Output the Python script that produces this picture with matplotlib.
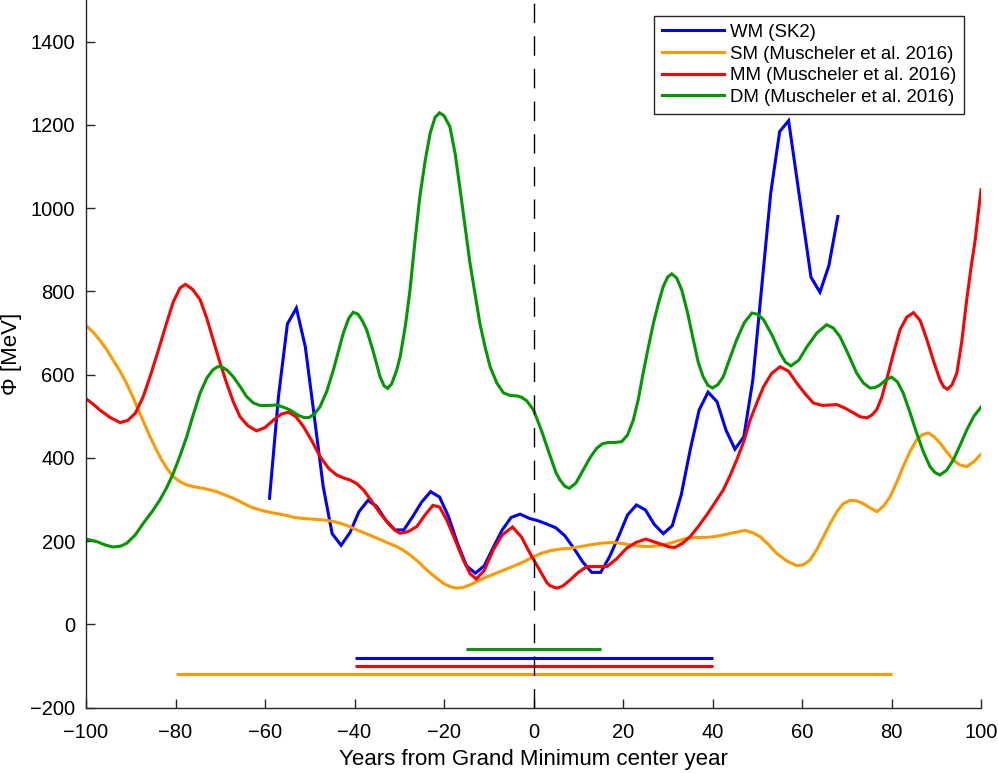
import numpy as np
import matplotlib
matplotlib.use('Agg')
import matplotlib.pyplot as plt

plt.rcParams['font.family'] = ['Liberation Sans', 'DejaVu Sans']

# WM (SK2) - ломаная, точки примерно через 2 года
wm_x = [-59, -57, -55, -53, -51, -49, -47, -45, -43, -41, -39, -37, -35, -33, -31, -29,
        -27, -25, -23, -21, -19, -17, -15, -13, -11, -9, -7, -5, -3, -1, 1, 3, 5, 7,
        9, 11, 13, 15, 17, 19, 21, 23, 25, 27, 29, 31, 33, 35, 37, 39, 41, 43, 45, 47,
        49, 51, 53, 55, 57, 62, 64, 66, 68]
wm_y = [303, 547, 722, 760, 667, 500, 331, 218, 190, 221, 271, 298, 283, 250, 227, 227,
        259, 294, 319, 306, 259, 195, 141, 123, 141, 185, 227, 257, 265, 255, 249, 241, 232, 213,
        183, 150, 125, 125, 163, 211, 263, 287, 275, 240, 218, 237, 311, 419, 515, 558, 535, 467, 421, 451,
        587, 812, 1036, 1184, 1210, 834, 798, 862, 980]

# SM (Muscheler et al. 2016)
sm_x = [-100, -98.5, -97, -95.5, -94, -92.5, -91, -89.6, -88.3, -87, -85.7, -84.4, -83.1,
        -81.8, -80.5, -79, -77.5, -75.6, -73.8, -72.3, -70.8, -69, -67.1, -65.2, -63.4,
        -61.5, -59.6, -57.4, -55.2, -53.5, -52, -49.5, -47, -45, -43.2, -41.3, -39.5,
        -37.2, -35, -32.8, -30.6, -29.1, -27.6, -25.7, -23.9, -22, -20.2, -18.7, -17.2,
        -15.7, -14.2, -12.7, -11.2, -9.3, -7.5, -5.6, -3.8, -1.9, 0, 1.8, 3.7, 6, 8.2,
        10.4, 12.6, 15, 17.5, 19.5, 21.6, 23.8, 26, 28.3, 30.5, 32.3, 34.2, 36.5, 38.7,
        40.5, 42.4, 45, 47.3, 49, 50.6, 52.5, 54.3, 56.5, 58.8, 60.3, 61.8, 63.3, 64.8,
        66.3, 67.8, 69.2, 70.7, 72.2, 73.7, 75.2, 76.7, 78.2, 79.7, 81.1, 82.6, 84.1,
        85.6, 86.9, 88.2, 89.5, 90.8, 92.3, 93.8, 95.3, 96.8, 98.4, 100]
sm_y = [718, 703, 684, 662, 636, 610, 580, 548, 515, 483, 451, 422, 395,
        373, 355, 343, 335, 330, 327, 323, 319, 311, 303, 293, 283,
        276, 271, 266, 262, 257, 255, 253, 251, 248, 243, 236, 227,
        217, 207, 197, 187, 178, 167, 150, 131, 114, 99, 91, 87,
        89, 95, 103, 111, 119, 127, 135, 143, 152, 163, 171, 177, 181, 183,
        187, 191, 195, 197, 195, 191, 188, 187, 190, 195, 201, 207, 209, 209,
        211, 215, 221, 226, 220, 211, 192, 171, 153, 141, 143, 155, 180, 211,
        243, 271, 290, 298, 297, 290, 280, 271, 284, 307, 340, 379, 415,
        443, 456, 460, 451, 436, 415, 395, 383, 379, 391, 409]

# MM (Muscheler et al. 2016)
mm_x = [-100, -98.5, -96.9, -94.6, -92.4, -90.7, -89, -87.3, -85.7, -83.8, -82, -80.5,
        -79, -77.8, -76.2, -74.5, -73, -71.6, -70.1, -68.6, -67.1, -65.6, -63.8, -61.9,
        -60, -58.1, -56.4, -54.8, -53.1, -51.4, -49.5, -47.7, -45.8, -44, -42.5, -41,
        -39.5, -38, -36.2, -34.3, -32, -30.8, -29.8, -28, -26.1, -24.3, -22.5, -21,
        -19.4, -17.6, -15.7, -14.2, -12.8, -11, -9, -7, -4.7, -2.7, -0.8, 1.5, 3, 3.7,
        5.2, 6.5, 8.2, 10, 11.9, 14.1, 16.4, 18.6, 20.8, 22.9, 25.1, 27, 29, 30.3, 31.6,
        33.3, 35, 36.8, 38.7, 40.5, 42.4, 43.9, 45.4, 47, 48.4, 50, 51.4, 53.2, 55.1,
        57, 58.8, 60.7, 62.5, 64.5, 66.2, 67.8, 69.7, 71.5, 73, 74.5, 75.6, 76.7, 77.8,
        78.9, 80.4, 81.9, 83.4, 84.9, 86.4, 87.9, 89.4, 90.8, 91.7, 92.5, 93.5, 94.6,
        95.7, 96.8, 97.8, 98.7, 99.4, 100]
mm_y = [542, 530, 515, 497, 485, 490, 507, 545, 595, 660, 724, 775,
        808, 817, 805, 780, 735, 684, 630, 580, 535, 499, 477, 465,
        473, 491, 505, 510, 499, 475, 440, 403, 375, 359, 352, 347,
        338, 323, 297, 267, 237, 225, 219, 223, 235, 262, 286, 282,
        251, 205, 155, 122, 109, 130, 179, 215, 234, 210, 171, 128, 100, 93,
        87, 92, 107, 125, 139, 139, 139, 158, 183, 197, 205, 198, 191, 186, 185,
        195, 211, 235, 263, 292, 323, 357, 395, 440, 491, 535, 571, 603, 619,
        608, 580, 554, 532, 526, 527, 528, 519, 508, 499, 496, 503, 516, 545,
        588, 650, 708, 738, 749, 730, 684, 632, 588, 570, 565, 575, 604,
        680, 780, 860, 924, 990, 1044]

# DM (Muscheler et al. 2016)
dm_x = [-100, -97.6, -95.5, -93.9, -92.3, -90.9, -89, -87.2, -85.3, -83.5, -82, -80.5,
        -79, -77.5, -76, -74.5, -73, -71.6, -70.6, -69.7, -68.4, -67.1, -65.6, -64.1,
        -62.6, -61.1, -59.3, -57.4, -55.9, -54.4, -52.5, -51.3, -50.2, -49, -47.7, -46.2,
        -44.7, -43.5, -42.5, -41.3, -40.3, -39.2, -38.3, -37.3, -35.8, -34.3, -33.4, -32.6,
        -31.7, -30.6, -29.8, -28.6, -27.6, -26.5, -25.4, -24.2, -23.1, -22, -21, -20,
        -18.7, -17.5, -16.4, -15.3, -14.2, -13, -12, -10.8, -9.7, -8.2, -6.7, -5.2, -3.8,
        -2.7, -1.5, 0, 1.8, 3.7, 5, 5.9, 7, 8, 9.5, 11.1, 12.6, 14.1, 15.4, 16.7, 18.2,
        19.7, 21, 22.3, 23.4, 24.5, 25.7, 26.8, 28, 29, 30, 30.9, 32, 33.1, 34.4, 35.7,
        36.8, 37.9, 39, 40, 41.2, 42.4, 43.9, 45.4, 47.1, 48.8, 50.1, 51.4, 53.3, 55.1,
        56.3, 57.5, 59.3, 61.1, 63.3, 65.5, 67, 68.5, 70.3, 72.2, 73.7, 75.2, 76.3, 77.4,
        78.7, 80, 81.3, 82.6, 84.1, 85.6, 87.1, 88.6, 89.7, 90.8, 92.3, 93.8, 95.3, 96.8,
        98.4, 100]
dm_y = [205, 199, 190, 186, 188, 195, 215, 243, 270, 299, 328, 363,
        405, 451, 505, 556, 592, 612, 619, 619, 610, 595, 572, 547,
        532, 526, 526, 527, 522, 515, 502, 497, 497, 505, 523, 560,
        612, 660, 700, 735, 750, 745, 730, 708, 655, 595, 573, 567,
        578, 610, 643, 720, 804, 920, 1028, 1115, 1180, 1218, 1229, 1222,
        1196, 1130, 1044, 955, 868, 790, 724, 665, 619, 580, 556, 550, 549,
        546, 537, 515, 465, 405, 365, 347, 332, 327, 340, 371, 400, 423, 434, 437, 437,
        439, 455, 491, 540, 604, 668, 724, 775, 812, 835, 842, 832, 804, 750, 684,
        630, 595, 574, 568, 576, 595, 640, 684, 725, 748, 745, 732, 695, 652,
        630, 621, 635, 667, 700, 720, 712, 691, 650, 604, 580, 568, 569, 575,
        587, 594, 583, 556, 510, 460, 415, 379, 365, 359, 370, 395, 430, 467,
        500, 522]

# Интервалы минимумов (полоски внизу)
bar_start = [-15, -40, -40, -80]
bar_end = [15, 40, 40, 80]
bar_level = [-60, -80, -100, -120]

labels = ['WM (SK2)', 'SM (Muscheler et al. 2016)', 'MM (Muscheler et al. 2016)',
          'DM (Muscheler et al. 2016)']
colors = ['#0000ff', '#ff9900', '#ff0000', '#009900']

fig = plt.figure(figsize=(9.98, 7.73), dpi=100)
ax = fig.add_axes([0.0862, 0.0845, 0.8968, 0.9155])

lw = 2.2
series = [(wm_x, wm_y), (sm_x, sm_y), (mm_x, mm_y), (dm_x, dm_y)]
for (xs, ys), c, lab in zip(series, colors, labels):
    ax.plot(xs, ys, color=c, lw=lw, label=lab, solid_joinstyle='miter')

# порядок полосок: зелёная, синяя, красная, оранжевая
bar_colors = [colors[3], colors[0], colors[2], colors[1]]
for s, e, lvl, c in zip(bar_start, bar_end, bar_level, bar_colors):
    ax.plot([s, e], [lvl, lvl], color=c, lw=lw, solid_capstyle='butt')

ax.axvline(0, color='black', lw=1.0, dashes=(14, 9.5))

ax.set_xlim(-100, 100)
ax.set_ylim(-200, 1500)
ax.set_xticks(np.arange(-100, 101, 20))
ax.set_yticks(np.arange(-200, 1401, 200))
ax.spines['top'].set_visible(False)
ax.spines['right'].set_visible(False)
for sp in ['left', 'bottom']:
    ax.spines[sp].set_color('#262626')
    ax.spines[sp].set_linewidth(1.0)
ax.tick_params(direction='in', length=6.5, width=1.0, color='#262626',
               labelsize=14.5)
ax.tick_params(axis='y', pad=8)
ax.tick_params(axis='x', pad=11)

ax.set_xlabel('Years from Grand Minimum center year', fontsize=16, labelpad=5)
ax.set_ylabel('Φ [MeV]', fontsize=16)
ax.yaxis.set_label_coords(-0.071, 0.5)

leg = ax.legend(loc='upper right', bbox_to_anchor=(0.9662, 0.9793),
                bbox_transform=fig.transFigure, borderaxespad=0,
                fontsize=13.4, handlelength=3.3, handletextpad=0.35,
                labelspacing=0.25, borderpad=0.42, fancybox=False,
                framealpha=1, edgecolor='#262626')
leg.get_frame().set_linewidth(1.0)

plt.savefig('out.png', dpi=100)
